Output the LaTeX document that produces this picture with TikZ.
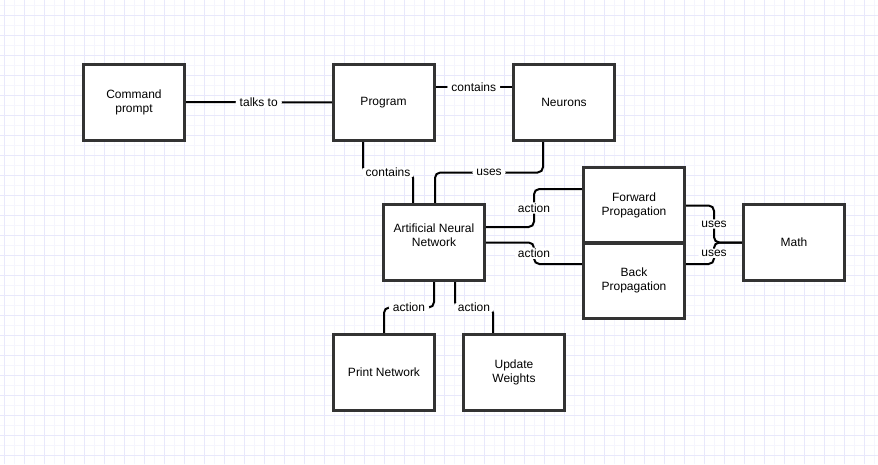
\documentclass[tikz,border=0pt]{standalone}
\usepackage{fontspec}
\setmainfont{Liberation Sans}
\usetikzlibrary{calc}
\definecolor{gridminor}{RGB}{245,245,253}
\definecolor{gridmajor}{RGB}{232,232,251}
\definecolor{boxline}{RGB}{51,51,51}
\tikzset{
  box/.style={draw=boxline, line width=1.5pt, fill=white, minimum width=75pt, minimum height=56.25pt, inner sep=0pt, align=center},
  conn/.style={line width=1.5pt, draw=black, rounded corners=4pt},
  lbl/.style={fill=white, inner xsep=3pt, inner ysep=1pt},
}
\begin{document}
\begin{tikzpicture}[x=0.75pt, y=-0.75pt, font=\fontsize{9pt}{10.5pt}\selectfont]
\useasboundingbox (0,0) rectangle (878,464);
\fill[white] (0,0) rectangle (878,464);
% grid
\foreach \gx in {14,34,...,874} \draw[gridminor, line width=0.75pt] (\gx,0) -- (\gx,464);
\foreach \gy in {5,25,...,464} \draw[gridminor, line width=0.75pt] (0,\gy) -- (878,\gy);
\foreach \gx in {4,24,...,874} \draw[gridmajor, line width=0.75pt] (\gx,0) -- (\gx,464);
\foreach \gy in {15,35,...,464} \draw[gridmajor, line width=0.75pt] (0,\gy) -- (878,\gy);

% nodes
\node[box] (cmd) at (134,102) {Command\\prompt};
\node[box] (prog) at (383.5,102.5) {Program};
\node[box] (neu) at (564,102.5) {Neurons};
\node[box] (ann) at (434,242.5) {};
\node[box] (fwd) at (634,205.5) {Forward\\Propagation};
\node[box] (back) at (634,280.5) {Back\\Propagation};
\node[box] (math) at (794,242.5) {Math};
\node[box] (print) at (384,372.5) {Print Network};
\node[box] (upd) at (514,372.5) {Update\\Weights};

% connectors
\draw[conn] (cmd) -- node[lbl]{talks to} (prog);
\draw[conn] ($(prog.east)+(0,-15.5)$) -- node[lbl]{contains} ($(neu.west)+(0,-15.5)$);

\coordinate (p1) at ($(prog.south)+(-20.5,0)$);
\coordinate (a1) at ($(ann.north)+(-21,0)$);
\draw[conn] (p1) |- ($(p1)!0.5!(a1)$) node[lbl]{contains} -| (a1);

\coordinate (n1) at ($(neu.south)+(-21,0)$);
\coordinate (a2) at ($(ann.north)+(1,0)$);
\draw[conn] (n1) |- ($(n1)!0.5!(a2)$) node[lbl]{uses} -| (a2);

\coordinate (a3) at ($(ann.east)+(0,-15.5)$);
\coordinate (f1) at ($(fwd.west)+(0,-16.5)$);
\draw[conn] (a3) -| ($(a3)!0.5!(f1)$) node[lbl]{action} |- (f1);

\coordinate (b1) at ($(back.west)+(0,-16.5)$);
\draw[conn] (ann.east) -| ($(ann.east)!0.5!(b1)$) node[lbl]{action} |- (b1);

\draw[conn] (fwd.east) -| ($(fwd.east)!0.5!(math.west)$) node[lbl]{uses} |- (math.west);

\coordinate (b2) at ($(back.east)+(0,-16.5)$);
\draw[conn] (b2) -| ($(b2)!0.5!(math.west)$) node[lbl]{uses} |- (math.west);

\draw[conn] (ann.south) |- ($(ann.south)!0.5!(print.north)$) node[lbl]{action} -| (print.north);

\coordinate (a4) at ($(ann.south)+(21,0)$);
\coordinate (u1) at ($(upd.north)+(-21,0)$);
\draw[conn] (a4) |- ($(a4)!0.5!(u1)$) node[lbl]{action} -| (u1);

% redraw boxes over connector ends
\foreach \n in {cmd,prog,neu,ann,fwd,back,math,print,upd} {
  \draw[draw=boxline, line width=1.5pt] (\n.north west) rectangle (\n.south east);
}
\node[align=center, inner sep=0pt] (anntext) at ($(ann.center)+(0,-7)$) {Artificial Neural\\Network};
\end{tikzpicture}
\end{document}
